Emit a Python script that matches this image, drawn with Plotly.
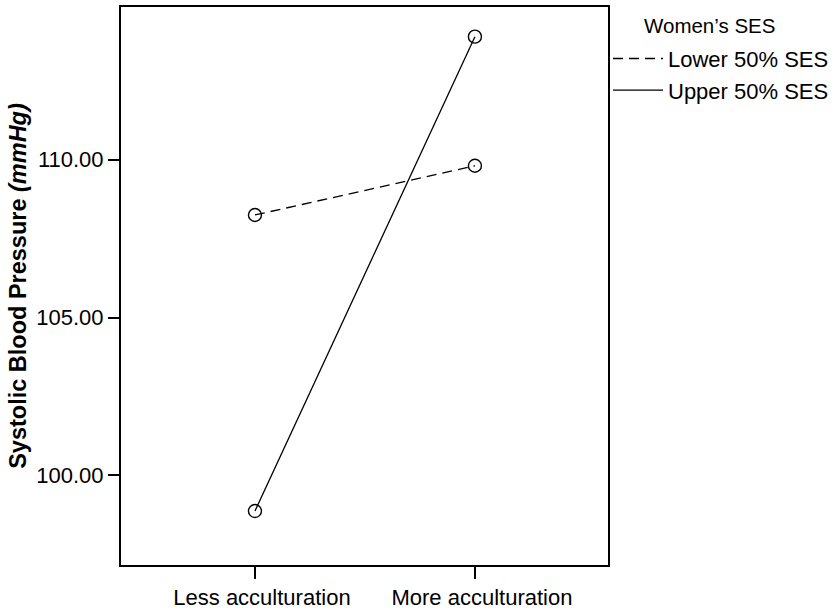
import plotly.graph_objects as go

categories = ["Less acculturation", "More acculturation"]
lower_ses = [108.25, 109.81]
upper_ses = [98.87, 113.9]
series_names = ["Lower 50% SES", "Upper 50% SES"]
y_ticks = [100, 105, 110]
y_tick_labels = ["100.00", "105.00", "110.00"]

FONT = "Liberation Sans, Arial, sans-serif"

fig = go.Figure()
x_idx = list(range(len(categories)))
for name, vals, dash in [(series_names[0], lower_ses, "10px,6px"), (series_names[1], upper_ses, "solid")]:
    fig.add_trace(go.Scatter(x=x_idx, y=vals, mode="lines", name=name,
                             line=dict(color="black", width=1.3, dash=dash)))
    fig.add_trace(go.Scatter(x=x_idx, y=vals, mode="markers", showlegend=False,
                             marker=dict(symbol="circle-open", size=13, color="black",
                                         line=dict(width=1.4, color="black"))))

fig.update_layout(
    width=839, height=615,
    margin=dict(l=121, r=231, t=5, b=43),
    plot_bgcolor="white", paper_bgcolor="white",
    font=dict(family=FONT, size=22, color="black"),
    legend=dict(x=1.0, xanchor="left", y=0.945, yanchor="top", itemwidth=50,
                font=dict(size=22), bgcolor="rgba(0,0,0,0)", tracegroupgap=0),
    annotations=[dict(text="Women’s SES", x=1.2094, y=0.967, xref="paper", yref="paper",
                      xanchor="center", yanchor="middle", showarrow=False,
                      font=dict(size=20.5, family=FONT))],
)
fig.update_xaxes(
    range=[-0.609, 1.605], tickmode="array", tickvals=x_idx, ticktext=categories,
    showline=True, linecolor="black", linewidth=2, mirror=True,
    ticks="outside", ticklen=12, tickwidth=2, tickcolor="black",
    showgrid=False, zeroline=False, tickfont=dict(size=22), ticklabelshift=7,
)
fig.update_yaxes(
    range=[97.16, 114.84], tickmode="array", tickvals=y_ticks, ticktext=y_tick_labels,
    showline=True, linecolor="black", linewidth=2, mirror=True,
    ticks="outside", ticklen=11, tickwidth=2, tickcolor="black",
    showgrid=False, zeroline=False, tickfont=dict(size=22),
    title=dict(text="<b>Systolic Blood Pressure <i>(mmHg)</i></b>", font=dict(size=23.5), standoff=3),
)

fig.write_html("out.html", config={"displayModeBar": False},
               post_script="document.body.style.margin='0px';")
